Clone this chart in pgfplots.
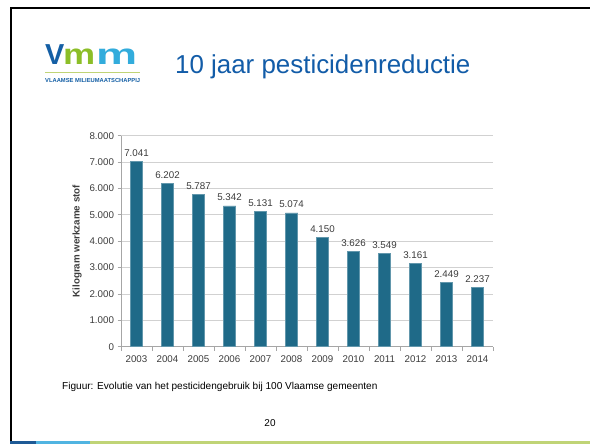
\documentclass[border=0pt]{standalone}
\usepackage{fontspec}
\setmainfont{Liberation Sans}
\usepackage{pgfplots}
\pgfplotsset{compat=1.18}
\definecolor{barc}{RGB}{31,106,136}
\definecolor{titleblue}{RGB}{18,92,168}
\definecolor{logoblue}{RGB}{20,95,165}
\definecolor{logogreen}{RGB}{140,190,40}
\definecolor{logocyan}{RGB}{50,172,220}
\definecolor{bardark}{RGB}{30,90,150}
\definecolor{barlight}{RGB}{80,180,225}
\definecolor{bargreen}{RGB}{192,212,118}
\definecolor{txtgray}{RGB}{60,60,60}
\begin{document}
\begin{tikzpicture}
\path[use as bounding box, fill=white] (0bp,0bp) rectangle (590bp,444bp);
% slide frame
\draw[black, line width=2bp] (11bp,0bp) -- (11bp,435.5bp) -- (590bp,435.5bp);
\fill[bardark] (10bp,0bp) rectangle (36bp,2.5bp);
\fill[barlight] (36bp,0bp) rectangle (90bp,2.5bp);
\fill[bargreen] (90bp,0bp) rectangle (590bp,2.5bp);
% logo
\node[anchor=base west, inner sep=0pt, text=logoblue, font=\fontsize{29}{30}\selectfont\bfseries] at (45bp,379bp) {V};
\node[anchor=base west, inner sep=0pt, text=logogreen, font=\fontsize{29}{30}\selectfont\bfseries] at (63bp,379bp) {\scalebox{1.25}[1]{m}};
\node[anchor=base west, inner sep=0pt, text=logocyan, font=\fontsize{29}{30}\selectfont\bfseries] at (96bp,379bp) {\scalebox{1.6}[1]{m}};
\draw[bargreen, line width=1bp] (45bp,371bp) -- (140bp,371bp);
\node[anchor=base west, inner sep=0pt, text=logoblue] at (45bp,361bp) {\resizebox{95bp}{!}{\bfseries VLAAMSE MILIEUMAATSCHAPPIJ}};
% title
\node[anchor=base west, inner sep=0pt, text=titleblue, font=\fontsize{26}{30}\selectfont] at (175bp,370bp) {10 jaar pesticidenreductie};
% chart
\begin{axis}[
  at={(121bp,97.3bp)}, anchor=south west,
  scale only axis, width=372bp, height=211bp,
  xmin=-0.5, xmax=11.5, ymin=0, ymax=8000,
  ybar, bar width=12.5bp,
  xtick={0,...,11},
  xticklabels={2003,2004,2005,2006,2007,2008,2009,2010,2011,2012,2013,2014},
  minor xtick={-0.5,0.5,...,11.5},
  major x tick style={draw=none},
  ytick={0,1000,...,8000},
  ymajorgrids, grid style={color=black!18, line width=0.8pt},
  axis x line*=bottom, axis y line*=left,
  axis line style={black!35, line width=0.8pt},
  tick align=outside, tick style={black!35, line width=0.8pt},
  major tick length=3.5bp, minor tick length=4bp,
  scaled y ticks=false,
  /pgf/number format/.cd, fixed, precision=0, 1000 sep={.}, assume math mode=true,
  /pgfplots/.cd,
  ticklabel style={font=\fontsize{9.8}{11}\selectfont, text=txtgray},
  xticklabel style={yshift=-1.5bp},
  ylabel={Kilogram werkzame stof},
  every axis y label/.style={at={(axis description cs:0,0.5)}, xshift=-44bp, rotate=90, anchor=center, font=\fontsize{9.8}{11}\selectfont\bfseries, text=txtgray},
  nodes near coords={\pgfmathprintnumber[fixed, precision=0, 1000 sep={.}, assume math mode=true]{\pgfplotspointmeta}},
  nodes near coords style={font=\fontsize{9.8}{11}\selectfont, text=txtgray, inner sep=0pt, anchor=south, yshift=4.5bp},
]
\addplot[fill=barc, draw=barc!70!white, line width=0.6pt] coordinates {
(0,7041) (1,6202) (2,5787) (3,5342) (4,5131) (5,5074)
(6,4150) (7,3626) (8,3549) (9,3161) (10,2449) (11,2237)};
\end{axis}
% caption
\node[anchor=base west, inner sep=0pt, font=\fontsize{10.1}{12}\selectfont] at (62bp,54.5bp) {Figuur: Evolutie van het pesticidengebruik bij 100 Vlaamse gemeenten};
\node[anchor=base, inner sep=0pt, font=\fontsize{10}{12}\selectfont] at (270bp,17.5bp) {20};
\end{tikzpicture}
\end{document}
